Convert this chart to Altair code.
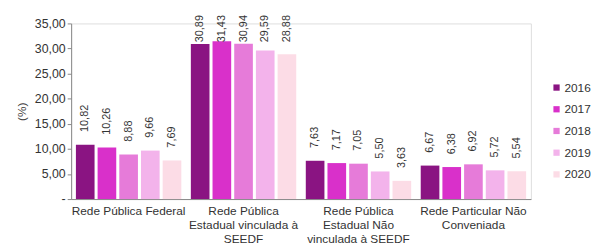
import altair as alt
import pandas as pd

categories = [
    "Rede Pública Federal",
    "Rede Pública\nEstadual vinculada à\nSEEDF",
    "Rede Pública\nEstadual  Não\nvinculada à SEEDF",
    "Rede Particular Não\nConveniada",
]
years = ["2016", "2017", "2018", "2019", "2020"]
v2016 = [10.82, 30.89, 7.63, 6.67]
v2017 = [10.26, 31.43, 7.17, 6.38]
v2018 = [8.88, 30.94, 7.05, 6.92]
v2019 = [9.66, 29.59, 5.50, 5.72]
v2020 = [7.69, 28.88, 3.63, 5.54]
y_ticks = [0, 5, 10, 15, 20, 25, 30, 35]
colors = ["#8A1482", "#D930CA", "#E67BD9", "#F3B3EB", "#FCDCE6"]

series = [v2016, v2017, v2018, v2019, v2020]
rows = []
for y, vals in zip(years, series):
    for c, v in zip(categories, vals):
        rows.append({"cat": c, "year": y, "value": v})
df = pd.DataFrame(rows)

font = "Liberation Sans"

x_axis = alt.Axis(labelAngle=0, labelExpr="split(datum.label, '\\n')",
                  labelFontSize=12, labelColor="#333333", labelFont=font,
                  labelPadding=7, labelLineHeight=14, ticks=False,
                  domainColor="#888888", labelBaseline="top")
y_axis = alt.Axis(values=y_ticks,
                  labelExpr="datum.value == 0 ? '-' : replace(format(datum.value, '.2f'), '.', ',')",
                  labelOverlap=False, labelBound=False,
                  grid=False, labelFontSize=12.5, labelColor="#333333",
                  labelFont=font, domainColor="#888888", tickColor="#888888",
                  tickSize=4, labelPadding=2, titleFont=font,
                  titleFontSize=12, titleFontWeight="normal",
                  titleColor="#333333", titlePadding=6)
y_scale = alt.Scale(domain=[0, 35])
x_scale = alt.Scale(paddingInner=0, paddingOuter=0)
xo = alt.XOffset("year:N", sort=years,
                 scale=alt.Scale(paddingInner=0.14, paddingOuter=0.22))

bars = alt.Chart(df).mark_bar().encode(
    x=alt.X("cat:N", sort=categories, title=None, scale=x_scale, axis=x_axis),
    xOffset=xo,
    y=alt.Y("value:Q", title="(%)", scale=y_scale, axis=y_axis),
    color=alt.Color("year:N", sort=years,
                    scale=alt.Scale(domain=years, range=colors),
                    legend=alt.Legend(title=None, orient="none", legendX=486, legendY=59,
                                      symbolType="square", symbolSize=40,
                                      symbolStrokeWidth=0, labelFontSize=12,
                                      labelFont=font, labelColor="#333333",
                                      rowPadding=10, labelOffset=2)),
)

labels = alt.Chart(df).transform_calculate(
    lab="replace(format(datum.value, '.2f'), '.', ',')",
    pos="min(datum.value, 28.7)",
).mark_text(angle=270, align="left", baseline="middle", dx=13,
            fontSize=11, font=font, color="#333333").encode(
    x=alt.X("cat:N", sort=categories, title=None, scale=x_scale, axis=x_axis),
    xOffset=xo,
    y=alt.Y("pos:Q", title="(%)", scale=y_scale, axis=y_axis),
    text="lab:N",
)

chart = alt.layer(bars, labels).properties(
    width=466, height=178,
    autosize=alt.AutoSizeParams(type="none"),
    padding={"left": 64, "top": 14, "right": 66, "bottom": 51},
).configure_view(strokeWidth=0).configure(background="white")

chart.save("out.html", embed_options={"renderer": "svg", "actions": False})
